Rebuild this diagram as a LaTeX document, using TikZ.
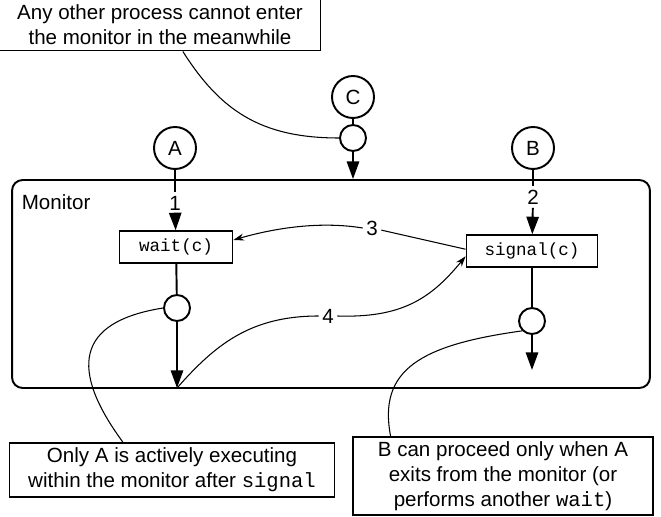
\documentclass[tikz,border=0pt]{standalone}
\usepackage{fontspec}
\setmainfont{Liberation Sans}
\setmonofont{Liberation Mono}
\usetikzlibrary{arrows.meta}

\begin{document}
\begin{tikzpicture}[x=0.02cm, y=-0.02cm, line width=1.1pt,
    font=\fontsize{11.7}{14.2}\selectfont,
    proc/.style={draw, circle, minimum size=0.84cm, inner sep=0pt},
    gate/.style={draw, circle, minimum size=0.52cm, inner sep=0pt},
    code/.style={draw, font=\ttfamily\fontsize{10}{12}\selectfont, minimum height=0.63cm},
    note/.style={draw, align=center, inner sep=2pt},
    step label/.style={inner sep=1.5pt},
    flow/.style={-{Triangle[length=10pt, width=7pt]}},
    thin flow/.style={line width=0.6pt, -{Stealth[length=6pt, width=4pt]}},
    callout/.style={line width=0.6pt}]
            \useasboundingbox (0,0) rectangle (661,516);

            % The monitor itself
            \node[draw, rounded corners=6pt, minimum width=12.76cm, minimum height=4.16cm] (monitor) at (331,284) {};
            \node[anchor=west] (monlabel) at (15,202) {Monitor};

            % Processes waiting outside
            \node[proc] (A) at (175,148) {A};
            \node[proc] (B) at (533,148) {B};
            \node[proc] (C) at (353,97) {C};

            % Condition operations inside the monitor
            \node[code, minimum width=2.26cm] (wait) at (176,247) {wait(c)};
            \node[code, minimum width=2.62cm] (signal) at (532,251) {signal(c)};

            % Little queues
            \node[gate] (entryq) at (353,138) {};
            \node[gate] (waitq) at (177,308) {};
            \node[gate] (signalq) at (532,321) {};
            \coordinate (waitend) at (177,388);
            \coordinate (signalend) at (532,370);

            % Numbered steps
            \node[step label] (one) at (175,203) {1};
            \node[step label] (two) at (533,197) {2};
            \node[step label] (three) at (372,228) {3};
            \node[step label] (four) at (328,316) {4};

            % Entering
            \draw (A) -- (one);
            \draw[flow] (one) -- (wait);
            \draw (B) -- (two);
            \draw[flow] (two) -- (signal);
            \draw (C) -- (entryq);
            \draw[flow] (entryq) -- (entryq |- monitor.north);

            % Leaving
            \draw (wait) -- (waitq);
            \draw[flow] (waitq) -- (waitend);
            \draw (signal) -- (signalq);
            \draw[flow] (signalq) -- (signalend);

            % Signal wakes up A, then A hands back to B
            \draw[callout] (three) -- ([yshift=1pt]signal.west);
            \draw[thin flow] (three.west) .. controls (320,221) and (275,228) .. ([yshift=4pt]wait.east);
            \draw[callout] (waitend) .. controls (215,345) and (250,316) .. (four.west);
            \draw[thin flow] (four.east) .. controls (400,318) and (430,300) .. ([yshift=-3pt]signal.west);

            % Notes
            \node[note, minimum width=6.42cm, minimum height=1.02cm] (meanwhile) at (160,25) {Any other process cannot enter\\the monitor in the meanwhile};
            \node[note, minimum width=6.5cm, minimum height=1.08cm] (onlyA) at (172,470) {Only A is actively executing\\within the monitor after \texttt{signal}};
            \node[note, minimum width=6cm, minimum height=1.56cm] (proceed) at (503,476) {B can proceed only when A\\exits from the monitor (or\\performs another \texttt{wait})};

            % Callout lines
            \draw[callout] ([xshift=13pt]meanwhile.south) .. controls (220,110) and (260,138) .. (entryq.west);
            \draw[callout] ([xshift=-28pt]onlyA.north) .. controls (70,370) and (75,322) .. (waitq.west);
            \draw[callout] ([xshift=-64pt]proceed.north) .. controls (378,370) and (420,345) .. (signalq.south west);

        \end{tikzpicture}
\end{document}
